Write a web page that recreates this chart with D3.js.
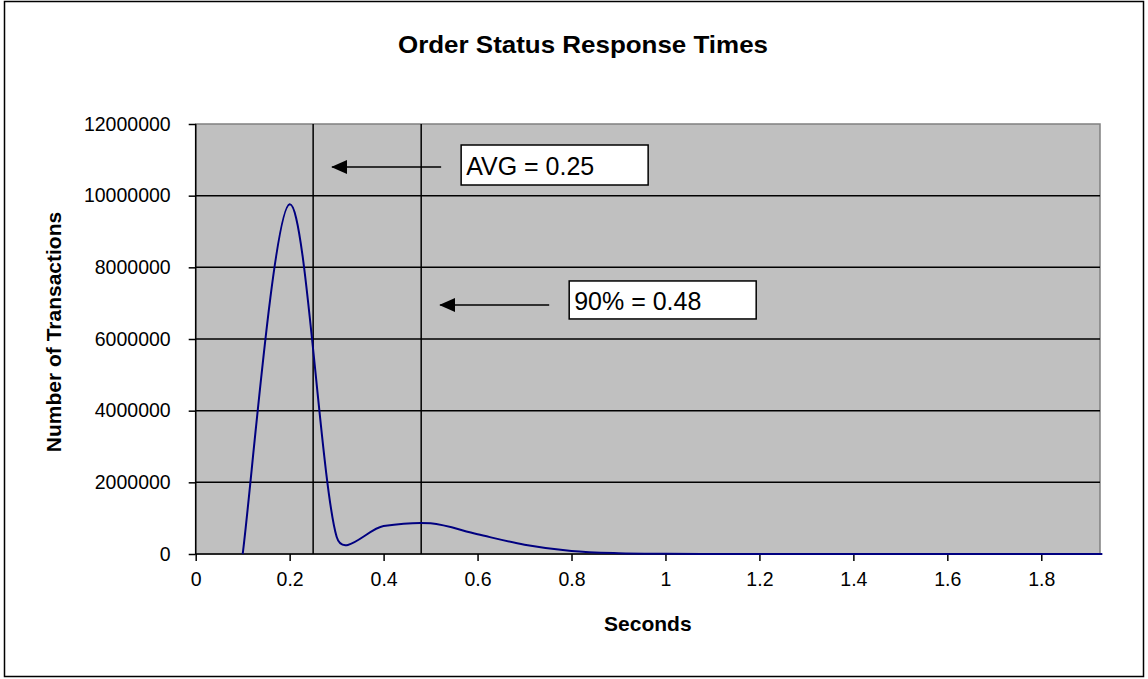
<!DOCTYPE html>
<html>
<head>
<meta charset="utf-8">
<script src="https://cdn.jsdelivr.net/npm/d3@7/dist/d3.min.js"></script>
<style>
  body { margin: 0; background: #fff; }
  text { font-family: "Liberation Sans", Arial, sans-serif; }
</style>
</head>
<body>
<svg id="chart" width="1148" height="679"></svg>
<script>
// response time buckets (seconds) and transaction counts
var seconds = [0.1, 0.2, 0.3, 0.4, 0.5, 0.6, 0.7, 0.8, 0.9, 1.0, 1.1, 1.2, 1.3, 1.4, 1.5, 1.6, 1.7, 1.8, 1.9, 1.93];
var transactions = [0, 9760000, 480000, 780000, 855000, 550000, 260000, 85000, 22000, 5000, 1000, 0, 0, 0, 0, 0, 0, 0, 0, 0];

var yTicks = [0, 2000000, 4000000, 6000000, 8000000, 10000000, 12000000];
var xTicks = [0, 0.2, 0.4, 0.6, 0.8, 1, 1.2, 1.4, 1.6, 1.8];

// marker lines: average and 90th percentile
var markerLabels = ["AVG = 0.25", "90% = 0.48"];
var markerValues = [0.25, 0.48];
var markerArrowY = [10800000, 6950000];

var svg = d3.select("#chart");

svg.append("rect")
    .attr("x", 4.5).attr("y", 1.5)
    .attr("width", 1139).attr("height", 675)
    .attr("fill", "#fff")
    .attr("stroke", "#000")
    .attr("stroke-width", 1.5);

var x = d3.scaleLinear().domain([0, 1.925]).range([195.7, 1100]);
var y = d3.scaleLinear().domain([0, 12000000]).range([554, 124]);

svg.append("text")
    .attr("x", 583).attr("y", 53)
    .attr("text-anchor", "middle")
    .attr("font-size", 24)
    .attr("font-weight", "bold")
    .attr("textLength", 370)
    .attr("lengthAdjust", "spacingAndGlyphs")
    .text("Order Status Response  Times");

// plot area
svg.append("rect")
    .attr("x", x(0)).attr("y", y(12000000))
    .attr("width", x(1.925) - x(0))
    .attr("height", y(0) - y(12000000))
    .attr("fill", "#c0c0c0")
    .attr("stroke", "#808080")
    .attr("stroke-width", 1.5);

svg.append("g").selectAll("line")
    .data(yTicks.filter(function(d) { return d > 0 && d < 12000000; }))
    .enter().append("line")
      .attr("x1", x(0)).attr("x2", x(1.925))
      .attr("y1", function(d) { return y(d); })
      .attr("y2", function(d) { return y(d); })
      .attr("stroke", "#000")
      .attr("stroke-width", 1.5);

svg.append("g").selectAll("line")
    .data(markerValues)
    .enter().append("line")
      .attr("x1", function(d) { return x(d); })
      .attr("x2", function(d) { return x(d); })
      .attr("y1", y(12000000)).attr("y2", y(0))
      .attr("stroke", "#000")
      .attr("stroke-width", 1.5);

// axes
var yAxis = svg.append("g")
    .attr("transform", "translate(" + x(0) + ",0)")
    .call(d3.axisLeft(y).tickValues(yTicks).tickSize(7).tickPadding(18).tickFormat(d3.format("d")));

var xAxis = svg.append("g")
    .attr("transform", "translate(0," + y(0) + ")")
    .call(d3.axisBottom(x).tickValues(xTicks).tickSize(7).tickPadding(11)
      .tickFormat(function(d) { return String(+d.toFixed(1)); }));

[yAxis, xAxis].forEach(function(a) {
  a.select(".domain").attr("stroke", "#000").attr("stroke-width", 1.5);
  a.selectAll(".tick line").attr("stroke", "#000").attr("stroke-width", 1.5);
  a.selectAll(".tick text")
      .attr("fill", "#000")
      .attr("font-size", 19.5)
      .attr("font-family", "'Liberation Sans', Arial, sans-serif");
});
yAxis.select(".domain").attr("d", "M0," + y(12000000) + "V" + y(0));
xAxis.select(".domain").attr("d", "M" + x(0) + ",0H" + x(1.925));

// spreadsheet-style smoothed line: bezier arms of (next - prev)/6,
// never longer than half of the segment they sit on
function smoothPath(pts) {
  var p = d3.path(), n = pts.length;
  p.moveTo(pts[0][0], pts[0][1]);
  function arm(a, b, seg) {
    var dx = (b[0] - a[0]) / 6, dy = (b[1] - a[1]) / 6,
        len = Math.sqrt(dx * dx + dy * dy), k = 1;
    if (len > seg / 2 && len > 0) k = (seg / 2) / len;
    return [dx * k, dy * k];
  }
  for (var i = 0; i < n - 1; i++) {
    var p0 = pts[Math.max(i - 1, 0)], p1 = pts[i], p2 = pts[i + 1], p3 = pts[Math.min(i + 2, n - 1)];
    var seg = Math.sqrt(Math.pow(p2[0] - p1[0], 2) + Math.pow(p2[1] - p1[1], 2));
    var a1 = arm(p0, p2, seg), a2 = arm(p1, p3, seg);
    p.bezierCurveTo(p1[0] + a1[0], p1[1] + a1[1], p2[0] - a2[0], p2[1] - a2[1], p2[0], p2[1]);
  }
  return p.toString();
}

var points = seconds.map(function(s, i) { return [x(s), y(transactions[i])]; });

svg.append("path")
    .attr("d", smoothPath(points))
    .attr("fill", "none")
    .attr("stroke", "#000080")
    .attr("stroke-width", 2);

// annotations
svg.append("defs").append("marker")
    .attr("id", "head")
    .attr("viewBox", "0 0 16 14")
    .attr("refX", 15).attr("refY", 7)
    .attr("markerWidth", 16).attr("markerHeight", 14)
    .attr("markerUnits", "userSpaceOnUse")
    .attr("orient", "auto")
  .append("path")
    .attr("d", "M0,0L16,7L0,14Z")
    .attr("fill", "#000");

var notes = svg.append("g").selectAll("g")
    .data(markerValues)
    .enter().append("g");

notes.append("line")
    .attr("x1", function(d) { return x(d) + 128; })
    .attr("x2", function(d) { return x(d) + 19; })
    .attr("y1", function(d, i) { return y(markerArrowY[i]); })
    .attr("y2", function(d, i) { return y(markerArrowY[i]); })
    .attr("stroke", "#000")
    .attr("stroke-width", 1.5)
    .attr("marker-end", "url(#head)");

notes.append("rect")
    .attr("x", function(d) { return x(d) + 148; })
    .attr("y", function(d, i) { return y(markerArrowY[i]) - (i === 0 ? 22 : 24); })
    .attr("width", 187)
    .attr("height", function(d, i) { return i === 0 ? 40 : 38; })
    .attr("fill", "#fff")
    .attr("stroke", "#000")
    .attr("stroke-width", 1.5);

notes.append("text")
    .attr("x", function(d) { return x(d) + 153; })
    .attr("y", function(d, i) { return y(markerArrowY[i]) + (i === 0 ? 8 : 5); })
    .attr("font-size", 25)
    .text(function(d, i) { return markerLabels[i]; });

// axis titles
svg.append("text")
    .attr("x", (x(0) + x(1.925)) / 2).attr("y", 631)
    .attr("text-anchor", "middle")
    .attr("font-size", 21)
    .attr("font-weight", "bold")
    .text("Seconds");

svg.append("text")
    .attr("transform", "translate(61,332) rotate(-90)")
    .attr("text-anchor", "middle")
    .attr("font-size", 21)
    .attr("font-weight", "bold")
    .text("Number of Transactions");
</script>
</body>
</html>
